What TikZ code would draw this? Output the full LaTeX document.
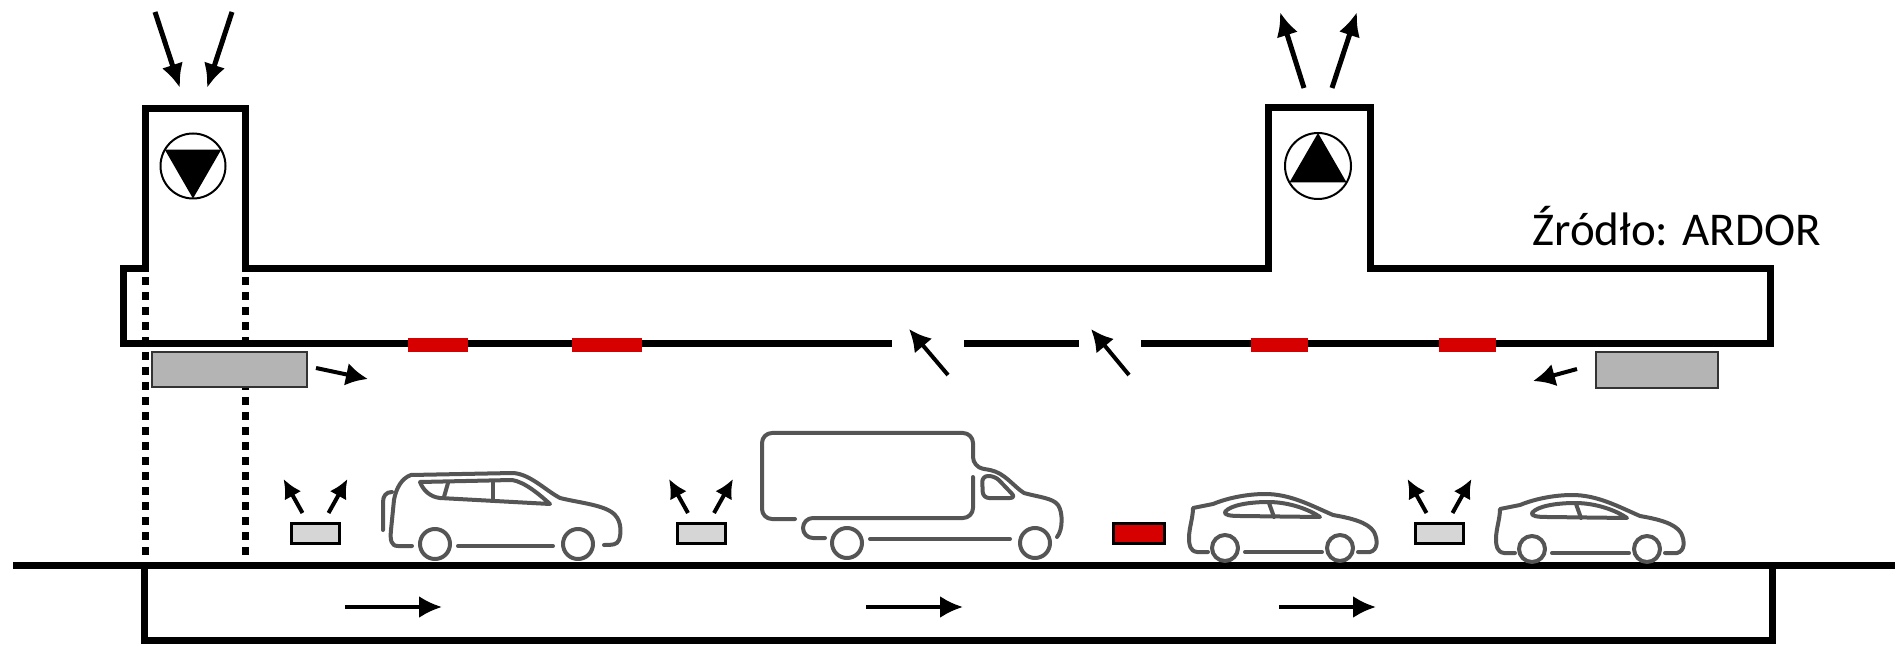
\documentclass[tikz,border=0pt]{standalone}
\usepackage{fontspec}
\setmainfont{Carlito}
\usetikzlibrary{arrows.meta}
\definecolor{carline}{HTML}{555555}
\definecolor{signalred}{RGB}{215,0,0}
\definecolor{panelgray}{HTML}{B4B4B4}
\definecolor{beacongray}{HTML}{D6D6D6}
\tikzset{
  wall/.style={line width=3.5pt, line cap=rect},
  dotwall/.style={line width=3.5pt, dash pattern=on 4pt off 3.5pt},
  towerarrow/.style={line width=2.5pt, -{Latex[length=12pt,width=11pt]}},
  midarrow/.style={line width=2pt, -{Latex[length=11pt,width=11.5pt]}},
  smallarrow/.style={line width=2pt, -{Latex[length=9.5pt,width=9.5pt]}},
  flowarrow/.style={line width=1.8pt, -{Latex[length=11.5pt,width=11pt]}},
  vehicle/.style={draw=carline, line width=2pt, line cap=round, line join=round},
  redmark/.style={fill=signalred, draw=none},
  panel/.style={fill=panelgray, draw=black!80, line width=1pt},
  beacon/.pic={
    \draw[fill=beacongray, line width=1.5pt] (-24,-10) rectangle (24,10);
    \draw[smallarrow] (-13,-20) -- (-32,-54);
    \draw[smallarrow] (13,-20) -- (32,-54);
  },
  sedan/.pic={
    % body outline, rear wheel centre at the origin
    \draw[vehicle] (-17,4) -- (-28,4) .. controls (-35,3) and (-36,-3) .. (-36,-10)
      .. controls (-36,-20) and (-32,-30) .. (-32,-40) -- (-12,-44)
      .. controls (5,-51) and (25,-54) .. (40,-54)
      .. controls (65,-54) and (85,-43) .. (108,-33)
      .. controls (125,-30) and (143,-26) .. (149,-16)
      .. controls (153,-8) and (153,2) .. (145,4) -- (133,4);
    \draw[vehicle] (0,-36) .. controls (5,-43) and (25,-46) .. (43,-46)
      .. controls (65,-46) and (85,-38) .. (95,-31) -- (15,-32)
      .. controls (5,-32) and (-1,-33) .. (0,-36) -- cycle;
    \draw[vehicle] (44,-45) -- (49,-31);
    \draw[vehicle] (0,0) circle[radius=13];
    \draw[vehicle] (115,0) circle[radius=13];
    \draw[vehicle] (20,4) -- (97,4);
  }
}
\begin{document}
\begin{tikzpicture}[x=0.5pt,y=-0.5pt]
\useasboundingbox[fill=white] (0,0) rectangle (1895,646);

% ---- upper corridor ----
\draw[wall] (145,269) -- (123,269) -- (123,344);
\draw[wall] (245,269) -- (1268,269);
\draw[wall] (1370,269) -- (1770,269) -- (1770,344) -- (1144,344);
\draw[wall] (1075,344) -- (967,344);
\draw[wall] (888,344) -- (123,344);

% red markers on the corridor edge
\fill[redmark] (408,338) rectangle (468,352);
\fill[redmark] (572,338) rectangle (642,352);
\fill[redmark] (1251,338) rectangle (1308,352);
\fill[redmark] (1439,338) rectangle (1496,352);

% ---- entry shaft (left) ----
\draw[wall] (145,269) -- (145,109) -- (245,109) -- (245,269);
\draw[dotwall] (145,277) -- (145,565);
\draw[dotwall] (245,277) -- (245,557);
\draw[line width=1pt] (193,166) circle[radius=32.5];
\fill (164.9,149.75) -- (221.1,149.75) -- (193,198.5) -- cycle;
\coordinate (inA0) at (155,12);  \coordinate (inA1) at (180,88);
\coordinate (inB0) at (232,12);  \coordinate (inB1) at (207,88);
\draw[towerarrow] (inA0) -- (inA1);
\draw[towerarrow] (inB0) -- (inB1);

% ---- exit shaft (right) ----
\draw[wall] (1268,269) -- (1268,108) -- (1370,108) -- (1370,269);
\draw[line width=1pt] (1318,166) circle[radius=33];
\fill (1318,133) -- (1346.6,182.5) -- (1289.4,182.5) -- cycle;
\coordinate (outA0) at (1304,88); \coordinate (outA1) at (1280,12);
\coordinate (outB0) at (1332,88); \coordinate (outB1) at (1357,12);
\draw[towerarrow] (outA0) -- (outA1);
\draw[towerarrow] (outB0) -- (outB1);

% ---- openings in the corridor edge ----
\coordinate (gA0) at (948,375); \coordinate (gA1) at (909,329);
\coordinate (gB0) at (1129,375); \coordinate (gB1) at (1091,329);
\draw[midarrow] (gA0) -- (gA1);
\draw[midarrow] (gB0) -- (gB1);

% ---- jet fan panels ----
\draw[panel] (152,352) rectangle (307,387);
\draw[panel] (1596,352) rectangle (1718,388);
\draw[midarrow] (316,368) -- (368,379);
\draw[midarrow] (1577,369) -- (1533,381);

% ---- carriageway ----
\draw[wall, line cap=butt] (13,565) -- (1895,565);
\draw[wall] (144,565) -- (144,640) -- (1772,640) -- (1772,565);
\draw[flowarrow] (345,607) -- (442,607);
\draw[flowarrow] (866,607) -- (963,607);
\draw[flowarrow] (1279,607) -- (1376,607);

% ---- roadside detectors ----
\pic at (315.5,533) {beacon};
\pic at (701,533) {beacon};
\pic at (1439.5,533) {beacon};
\draw[fill=signalred, line width=1.5pt] (1113,523) rectangle (1164,543);

% ---- estate car ----
\draw[vehicle] (412,546) -- (398,546) .. controls (391,546) and (390,540) .. (391,530)
  -- (394,500) .. controls (396,488) and (402,478) .. (411,475) -- (513,473)
  .. controls (530,474) and (545,490) .. (560,498)
  .. controls (580,503) and (606,505) .. (615,515)
  .. controls (622,522) and (621,535) .. (619,540)
  .. controls (617,545) and (612,545) .. (604,545);
\draw[vehicle] (392,492) .. controls (386,492) and (383,496) .. (383,502) -- (383,530);
\draw[vehicle] (420,482) -- (512,480) .. controls (525,482) and (540,495) .. (550,504)
  -- (440,498) .. controls (430,497) and (423,490) .. (420,482) -- cycle;
\draw[vehicle] (448,483) -- (444,497);
\draw[vehicle] (493,482) -- (493,500);
\draw[vehicle] (435,544) circle[radius=15];
\draw[vehicle] (578,544) circle[radius=15];
\draw[vehicle] (458,546) -- (553,546);

% ---- box truck ----
\draw[vehicle, rounded corners=5pt] (795,519) -- (762,519) -- (762,433) -- (973,433) -- (973,467) -- (990,470);
\draw[vehicle] (990,470) .. controls (1005,473) and (1013,486) .. (1024,493)
  .. controls (1038,497) and (1053,498) .. (1058,505)
  .. controls (1063,512) and (1063,530) .. (1057,537);
\draw[vehicle, rounded corners=5pt] (973,477) -- (973,518) -- (803,518) -- (803,538) -- (825,538);
\draw[vehicle, rounded corners=3pt] (982,476) -- (995,476) -- (1016,498) -- (983,498) -- cycle;
\draw[vehicle] (847,543) circle[radius=15];
\draw[vehicle] (1035,543) circle[radius=15];
\draw[vehicle] (870,539) -- (1010,539);

% ---- saloon cars ----
\pic at (1225,548) {sedan};
\pic at (1532,549) {sedan};

% ---- source note ----
\node[anchor=base west, inner sep=0pt, font=\fontsize{23.5}{28}\selectfont] (src) at (1532,246) {Źródło: ARDOR};
\end{tikzpicture}
\end{document}
